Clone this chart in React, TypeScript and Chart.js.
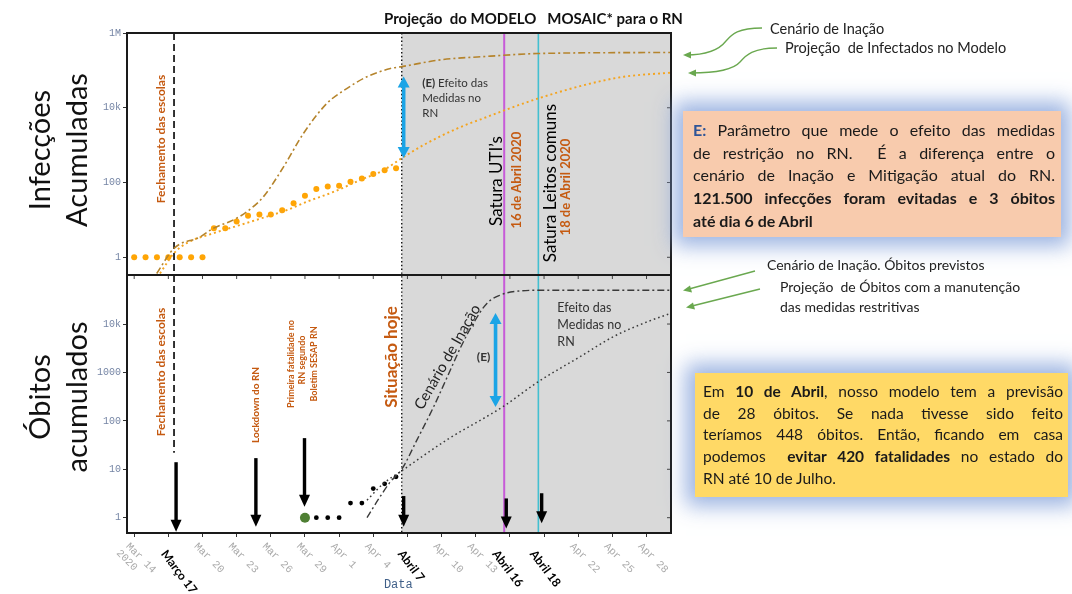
import React, { useEffect, useRef } from 'react';
import { Chart, registerables } from 'chart.js';

Chart.register(...registerables);

// ---------------- data (x = days since 14 March 2020) ----------------
const obsCaseDays = [0, 1, 2, 3, 4, 5, 6, 7, 8, 9, 10, 11, 12, 13, 14, 15, 16, 17, 18, 19, 20, 21, 22, 23];
const obsCaseValues = [1, 1, 1, 1, 1, 1, 1, 6, 6, 9, 13, 14, 14, 18, 28, 44, 67, 78, 82, 105, 129, 169, 213, 240];

const inactionCaseDays = [1.98, 3.5, 5.79, 6.96, 8.72, 9.9, 11.36, 13.12, 14.88, 16.94, 18.7, 20.45, 22.5, 23.5, 26.9, 31.3, 35.4, 47.1];
const inactionCaseValues = [0.37, 1.74, 3.5, 6.0, 10, 16.6, 42, 263, 2090, 13200, 33100, 67600, 112000, 126000, 191000, 240000, 282000, 302000];

const mitigCaseDays = [2.27, 3.5, 4.62, 6.96, 9.3, 11.66, 13.4, 15.2, 17.5, 19.9, 21.9, 23.5, 25.4, 28.4, 30.7, 32.5, 35.5, 40.1, 43.0, 47.1];
const mitigCaseValues = [0.37, 1.29, 2.4, 4.4, 7.3, 12.3, 18.2, 31, 56, 118, 214, 447, 1000, 2820, 5250, 8500, 17800, 44700, 67600, 87000];

const obsDeathDays = [15, 16, 17, 18, 19, 20, 21, 22, 23];
const obsDeathValues = [1, 1, 1, 1, 2, 2, 4, 5, 7];

const inactionDeathDays = [20.45, 21.5, 22.5, 23.5, 24.85, 26.3, 27.5, 28.7, 29.8, 31.0, 32.2, 33.4, 36, 47.1];
const inactionDeathValues = [1.0, 2.5, 5.5, 10, 41, 195, 810, 3400, 10500, 27000, 40000, 47000, 50000, 50000];

const mitigDeathDays = [20.45, 21.9, 23.5, 27.5, 32.5, 35.5, 39.2, 42.1, 45.1, 47.1];
const mitigDeathValues = [2.3, 5.1, 9.3, 41, 204, 646, 2140, 5500, 11200, 16600];

const xTickDays = [0, 3, 6, 9, 12, 15, 18, 21, 24, 27, 30, 33, 36, 39, 42, 45];
const xTickLabels = ['Mar 14\n2020', '', 'Mar 20', 'Mar 23', 'Mar 26', 'Mar 29', 'Apr 1', 'Apr 4', '', 'Apr 10', 'Apr 13', '', '', 'Apr 22', 'Apr 25', 'Apr 28'];
const boldDateDays = [3.0, 23.8, 32.1, 35.4];
const boldDateLabels = ['Março 17', 'Abril 7', 'Abril 16', 'Abril 18'];

const caseTickValues = [1, 100, 10000, 1000000];
const caseTickLabels = ['1', '100', '10k', '1M'];
const deathTickValues = [1, 10, 100, 1000, 10000];
const deathTickLabels = ['1', '10', '100', '1000', '10k'];

const schoolsClosedDay = 3.5;
const todayDay = 23.5;
const icuFullDay = 32.5;
const bedsFullDay = 35.5;

// black event arrows on the deaths panel
const eventArrowDays = [3.68, 10.69, 14.96, 23.67, 32.68, 35.79];
const eventArrowFrom = [14, 17, 44, 2.8, 2.5, 3.2];
const eventArrowTo = [0.51, 0.65, 1.69, 0.65, 0.6, 0.77];

const X_MIN = -0.63;
const X_MAX = 47.15;

const pts = (xs: number[], ys: number[]) => xs.map((x, i) => ({ x, y: ys[i] }));

const LATO = 'Lato, "Open Sans", sans-serif';
const ORANGE_TXT = '#c55a11';

function rotText(ctx: CanvasRenderingContext2D, text: string, x: number, y: number, deg: number, font: string, color: string, align: CanvasTextAlign = 'center', baseline: CanvasTextBaseline = 'middle') {
  ctx.save();
  ctx.translate(x, y);
  ctx.rotate((deg * Math.PI) / 180);
  ctx.font = font;
  ctx.fillStyle = color;
  ctx.textAlign = align;
  ctx.textBaseline = baseline;
  ctx.fillText(text, 0, 0);
  ctx.restore();
}

function downArrow(ctx: CanvasRenderingContext2D, x: number, y1: number, y2: number) {
  const shaft = 3.4, hw = 11, hh = 12;
  ctx.fillStyle = '#000';
  ctx.fillRect(x - shaft / 2, y1, shaft, y2 - y1 - hh + 1);
  ctx.beginPath();
  ctx.moveTo(x - hw / 2, y2 - hh);
  ctx.lineTo(x + hw / 2, y2 - hh);
  ctx.lineTo(x, y2);
  ctx.closePath();
  ctx.fill();
}

function doubleArrow(ctx: CanvasRenderingContext2D, x: number, y1: number, y2: number) {
  const shaft = 3.6, hw = 12, hh = 11;
  ctx.fillStyle = '#1ba4e6';
  ctx.fillRect(x - shaft / 2, y1 + hh - 1, shaft, y2 - y1 - 2 * hh + 2);
  ctx.beginPath();
  ctx.moveTo(x, y1);
  ctx.lineTo(x + hw / 2, y1 + hh);
  ctx.lineTo(x - hw / 2, y1 + hh);
  ctx.closePath();
  ctx.fill();
  ctx.beginPath();
  ctx.moveTo(x, y2);
  ctx.lineTo(x + hw / 2, y2 - hh);
  ctx.lineTo(x - hw / 2, y2 - hh);
  ctx.closePath();
  ctx.fill();
}

const overlayPlugin = {
  id: 'overlay',
  beforeDatasetsDraw(chart: any) {
    const { ctx, chartArea: a, scales } = chart;
    const x = scales.x, yd = scales.yDeaths;
    const line = (x1: number, y1: number, x2: number, y2: number) => {
      ctx.beginPath(); ctx.moveTo(x1, y1); ctx.lineTo(x2, y2); ctx.stroke();
    };
    ctx.save();
    const xs = x.getPixelForValue(todayDay);
    ctx.fillStyle = '#d9d9d9';
    ctx.fillRect(xs, a.top, a.right - xs, a.bottom - a.top);

    const xd = x.getPixelForValue(schoolsClosedDay);
    ctx.strokeStyle = '#111';
    ctx.lineWidth = 1.7;
    ctx.setLineDash([7, 4]);
    line(xd, a.top, xd, yd.getPixelForValue(22));

    ctx.lineWidth = 1.4;
    ctx.setLineDash([1.4, 2.4]);
    line(xs, a.top, xs, a.bottom);
    ctx.setLineDash([]);

    const xm = x.getPixelForValue(icuFullDay);
    ctx.strokeStyle = '#c75bd8';
    ctx.lineWidth = 2;
    line(xm, a.top, xm, a.bottom);

    const xc = x.getPixelForValue(bedsFullDay);
    ctx.strokeStyle = '#43bfd0';
    ctx.lineWidth = 1.6;
    line(xc, a.top, xc, a.bottom);
    ctx.restore();
  },
  beforeDatasetDraw(chart: any, args: any) {
    const ds = chart.data.datasets[args.index];
    const sc = chart.scales[ds.yAxisID];
    const a = chart.chartArea;
    const ctx = chart.ctx;
    ctx.save();
    ctx.beginPath();
    ctx.rect(a.left, sc.top, a.right - a.left, sc.bottom - sc.top);
    ctx.clip();
  },
  afterDatasetDraw(chart: any) {
    chart.ctx.restore();
  },
  afterDatasetsDraw(chart: any) {
    const { ctx, chartArea: a, scales } = chart;
    const x = scales.x, yc = scales.yCases, yd = scales.yDeaths;
    const X = (d: number) => x.getPixelForValue(d);
    const TY = (py: number) => yc.top + (py - 33);
    const BY = (py: number) => yd.top + (py - 275);
    ctx.save();

    // inner ticks
    ctx.strokeStyle = '#444';
    ctx.lineWidth = 1;
    for (const d of xTickDays) {
      const px = X(d);
      ctx.beginPath(); ctx.moveTo(px, yd.top); ctx.lineTo(px, yd.top + 4); ctx.stroke();
    }
    for (const v of caseTickValues) {
      const py = yc.getPixelForValue(v);
      ctx.beginPath(); ctx.moveTo(a.right, py); ctx.lineTo(a.right - 4, py); ctx.stroke();
    }
    for (const v of deathTickValues) {
      const py = yd.getPixelForValue(v);
      ctx.beginPath(); ctx.moveTo(a.right, py); ctx.lineTo(a.right - 4, py); ctx.stroke();
    }

    // frames
    ctx.strokeStyle = '#1a1a1a';
    ctx.lineWidth = 2;
    ctx.strokeRect(a.left, yc.top, a.right - a.left, yc.bottom - yc.top);
    ctx.strokeRect(a.left, yd.top, a.right - a.left, yd.bottom - yd.top);

    // event arrows
    eventArrowDays.forEach((d, i) => {
      downArrow(ctx, X(d), yd.getPixelForValue(eventArrowFrom[i]), yd.getPixelForValue(eventArrowTo[i]));
    });

    // blue "E" arrows
    doubleArrow(ctx, X(23.67), TY(76.5), TY(158));
    doubleArrow(ctx, X(31.74), BY(313), BY(407));

    // ---- top panel texts ----
    rotText(ctx, 'Fechamento das escolas', X(2.36), TY(139), -90, `bold 12px ${LATO}`, ORANGE_TXT);
    ctx.font = `bold 11.5px ${LATO}`;
    ctx.fillStyle = '#333';
    ctx.textAlign = 'left';
    ctx.textBaseline = 'middle';
    ctx.fillText('(E)', X(25.3), TY(83.5));
    const w = ctx.measureText('(E)').width;
    ctx.font = `11.5px ${LATO}`;
    ctx.fillText(' Efeito das', X(25.3) + w, TY(83.5));
    ctx.fillText('Medidas no', X(25.3), TY(98.5));
    ctx.fillText('RN', X(25.3), TY(113.5));

    rotText(ctx, 'Satura UTI’s', X(31.8), TY(181), -90, `17px ${LATO}`, '#000');
    rotText(ctx, '16 de Abril 2020', X(33.65), TY(180), -90, `bold 13px ${LATO}`, ORANGE_TXT);
    rotText(ctx, 'Satura Leitos comuns', X(36.58), TY(183), -90, `17px ${LATO}`, '#000');
    rotText(ctx, '18 de Abril 2020', X(37.95), TY(187), -90, `bold 13px ${LATO}`, ORANGE_TXT);

    // ---- bottom panel texts ----
    rotText(ctx, 'Fechamento das escolas', X(2.36), BY(372), -90, `bold 12px ${LATO}`, ORANGE_TXT);
    rotText(ctx, 'Lockdown do RN', X(10.69), BY(405), -90, `bold 10px ${LATO}`, ORANGE_TXT);
    rotText(ctx, 'Primeira fatalidade no', X(13.77), BY(364), -90, `bold 9px ${LATO}`, ORANGE_TXT);
    rotText(ctx, 'RN segundo', X(14.74), BY(360), -90, `bold 9px ${LATO}`, ORANGE_TXT);
    rotText(ctx, 'Boletim SESAP RN', X(15.76), BY(364), -90, `bold 9px ${LATO}`, ORANGE_TXT);
    rotText(ctx, 'Situação hoje', X(22.6), BY(357), -90, `bold 17px ${LATO}`, ORANGE_TXT);
    rotText(ctx, 'Cenário de Inação', X(27.52), BY(357), -60.3, `15px ${LATO}`, '#222');
    rotText(ctx, '(E)', X(30.69), BY(357), 0, `bold 12px ${LATO}`, '#333');
    ctx.font = `12.5px ${LATO}`;
    ctx.fillStyle = '#333';
    ctx.textAlign = 'left';
    ctx.textBaseline = 'middle';
    ctx.fillText('Efeito das', X(37.17), BY(308));
    ctx.fillText('Medidas no', X(37.17), BY(325));
    ctx.fillText('RN', X(37.17), BY(342));

    // ---- x tick labels ----
    xTickDays.forEach((d, i) => {
      const lab = xTickLabels[i];
      if (!lab) return;
      const lines = lab.split('\n');
      ctx.save();
      ctx.translate(X(d) - 3, a.bottom + 8);
      ctx.rotate(Math.PI / 4);
      ctx.font = `10.5px "Liberation Mono", "DejaVu Sans Mono", monospace`;
      ctx.fillStyle = '#aaaaaa';
      ctx.textAlign = 'left';
      ctx.textBaseline = 'top';
      lines.forEach((l, k) => ctx.fillText(l, -k * 2, k * 11.5));
      ctx.restore();
    });
    boldDateDays.forEach((d, i) => {
      rotText(ctx, boldDateLabels[i], X(d), a.bottom + 15, 53, `bold 12px ${LATO}`, '#000', 'left', 'top');
    });
    rotText(ctx, 'Data', X(23.2), a.bottom + 52, 0, `12px "Liberation Mono", monospace`, '#3f5f88');
    ctx.restore();
  },
};

const config: any = {
  type: 'line',
  data: {
    datasets: [
      {
        label: 'Cenário de Inação (infecções)',
        data: pts(inactionCaseDays, inactionCaseValues),
        yAxisID: 'yCases',
        borderColor: '#b5842c',
        borderWidth: 1.6,
        borderDash: [7, 3, 2, 3],
        pointRadius: 0,
        cubicInterpolationMode: 'monotone',
        fill: false,
      },
      {
        label: 'Projeção de infectados',
        data: pts(mitigCaseDays, mitigCaseValues),
        yAxisID: 'yCases',
        borderColor: '#f4a41f',
        borderWidth: 1.9,
        borderDash: [2, 3],
        pointRadius: 0,
        cubicInterpolationMode: 'monotone',
        fill: false,
      },
      {
        label: 'Casos confirmados',
        data: pts(obsCaseDays, obsCaseValues),
        yAxisID: 'yCases',
        showLine: false,
        pointRadius: 3,
        pointBackgroundColor: '#ffa505',
        pointBorderWidth: 0,
      },
      {
        label: 'Cenário de Inação (óbitos)',
        data: pts(inactionDeathDays, inactionDeathValues),
        yAxisID: 'yDeaths',
        borderColor: '#3a3a3a',
        borderWidth: 1.4,
        borderDash: [7, 3, 2, 3],
        pointRadius: 0,
        cubicInterpolationMode: 'monotone',
        fill: false,
      },
      {
        label: 'Projeção de óbitos',
        data: pts(mitigDeathDays, mitigDeathValues),
        yAxisID: 'yDeaths',
        borderColor: '#3a3a3a',
        borderWidth: 1.5,
        borderDash: [1.6, 3],
        pointRadius: 0,
        cubicInterpolationMode: 'monotone',
        fill: false,
      },
      {
        label: 'Óbitos confirmados',
        data: pts(obsDeathDays, obsDeathValues),
        yAxisID: 'yDeaths',
        showLine: false,
        pointRadius: obsDeathDays.map((_, i) => (i === 0 ? 5 : 2.4)),
        pointBackgroundColor: obsDeathDays.map((_, i) => (i === 0 ? '#4f7f33' : '#000')),
        pointBorderWidth: 0,
      },
    ],
  },
  options: {
    animation: false,
    responsive: false,
    devicePixelRatio: 1,
    layout: { padding: { left: 97, top: 33, right: 401, bottom: 16 } },
    plugins: { legend: { display: false }, tooltip: { enabled: false } },
    scales: {
      x: {
        type: 'linear',
        position: 'bottom',
        min: X_MIN,
        max: X_MAX,
        afterBuildTicks: (s: any) => {
          s.ticks = xTickDays.map((v) => ({ value: v }));
          s.min = X_MIN;
          s.max = X_MAX;
        },
        afterFit: (s: any) => { s.height = 45; },
        ticks: { display: false },
        grid: { display: true, drawOnChartArea: false, drawTicks: true, tickLength: 4, color: '#333' },
        border: { display: false },
      },
      yDeaths: {
        type: 'logarithmic',
        position: 'left',
        stack: 'panels',
        stackWeight: 258,
        min: 0.483,
        max: 103000,
        afterBuildTicks: (s: any) => {
          s.ticks = deathTickValues.map((v) => ({ value: v }));
          s.min = 0.483;
          s.max = 103000;
        },
        afterFit: (s: any) => { s.width = 30; },
        ticks: {
          autoSkip: false,
          padding: 2,
          color: '#7585a5',
          font: { family: '"Liberation Mono", monospace', size: 10 },
          callback: (v: number) => deathTickLabels[deathTickValues.indexOf(v)] ?? '',
        },
        grid: { drawOnChartArea: false, tickLength: 4, color: '#333' },
        border: { display: false },
      },
      yCases: {
        type: 'logarithmic',
        position: 'left',
        stack: 'panels',
        stackWeight: 242,
        min: 0.336,
        max: 1000000,
        afterBuildTicks: (s: any) => {
          s.ticks = caseTickValues.map((v) => ({ value: v }));
          s.min = 0.336;
          s.max = 1000000;
        },
        afterFit: (s: any) => { s.width = 30; },
        ticks: {
          autoSkip: false,
          padding: 2,
          color: '#7585a5',
          font: { family: '"Liberation Mono", monospace', size: 10 },
          callback: (v: number) => caseTickLabels[caseTickValues.indexOf(v)] ?? '',
        },
        grid: { drawOnChartArea: false, tickLength: 4, color: '#333' },
        border: { display: false },
      },
    },
  },
  plugins: [overlayPlugin],
};

const glow = '0 0 20px 9px rgba(138,166,220,0.85)';

function JLine({ children, last }: { children: React.ReactNode; last?: boolean }) {
  return (
    <div style={{ textAlign: last ? 'left' : 'justify', textAlignLast: last ? 'left' : 'justify', whiteSpace: 'pre-wrap' } as any}>
      {children}
    </div>
  );
}

export default function App() {
  const ref = useRef<HTMLCanvasElement>(null);
  useEffect(() => {
    const chart = new Chart(ref.current as HTMLCanvasElement, config);
    return () => chart.destroy();
  }, []);

  return (
    <div style={{ position: 'fixed', left: 0, top: 0, width: 1072, height: 594, background: '#fff', overflow: 'hidden', fontFamily: LATO, color: '#111' }}>
      <canvas ref={ref} width={1072} height={594} style={{ position: 'absolute', left: 0, top: 0, width: 1072, height: 594 }} />

      {/* title */}
      <div style={{ position: 'absolute', left: 384, top: 8, fontWeight: 700, fontSize: 15, whiteSpace: 'pre', lineHeight: '20px' }}>
        {'Projeção  do MODELO   MOSAIC* para o RN'}
      </div>

      {/* left panel labels */}
      <div style={{ position: 'absolute', left: 57, top: 150, transform: 'translate(-50%,-50%) rotate(-90deg)', fontSize: 29, lineHeight: '37px', textAlign: 'center', whiteSpace: 'nowrap' }}>
        Infecções<br />Acumuladas
      </div>
      <div style={{ position: 'absolute', left: 57, top: 397, transform: 'translate(-50%,-50%) rotate(-90deg)', fontSize: 29, lineHeight: '37px', textAlign: 'center', whiteSpace: 'nowrap' }}>
        Óbitos<br />acumulados
      </div>

      {/* green arrows */}
      <svg width={1072} height={594} style={{ position: 'absolute', left: 0, top: 0 }}>
        <defs>
          <marker id="ga" markerUnits="userSpaceOnUse" markerWidth="9" markerHeight="8" refX="1" refY="4" orient="auto-start-reverse">
            <path d="M0,4 L8,0.5 L8,7.5 z" fill="#6aa84f" />
          </marker>
        </defs>
        <path d="M762,28 C738,28 732,34 726,41 C719,50 706,55 686,55" stroke="#6aa84f" strokeWidth={1.3} fill="none" markerEnd="url(#gaEnd)" />
        <path d="M777,48 C753,48 746,55 740,62 C733,70 716,73 691,73" stroke="#6aa84f" strokeWidth={1.3} fill="none" />
        <path d="M755,271 L689,289" stroke="#6aa84f" strokeWidth={1.3} fill="none" />
        <path d="M760,289 L692,306" stroke="#6aa84f" strokeWidth={1.3} fill="none" />
        <path d="M683,55 L691,51.5 L691,58.5 z" fill="#6aa84f" />
        <path d="M688,73 L696,69.5 L696,76.5 z" fill="#6aa84f" />
        <path d="M683,290.5 L690,285.5 L692,292.5 z" fill="#6aa84f" />
        <path d="M686,307.5 L693,302.5 L695,309.5 z" fill="#6aa84f" />
      </svg>

      <div style={{ position: 'absolute', left: 770, top: 20, fontSize: 14.5, lineHeight: '18px', whiteSpace: 'pre', color: '#222' }}>Cenário de Inação</div>
      <div style={{ position: 'absolute', left: 785, top: 39, fontSize: 14.5, lineHeight: '18px', whiteSpace: 'pre', color: '#222' }}>{'Projeção  de Infectados no Modelo'}</div>

      {/* box 1 */}
      <div style={{ position: 'absolute', left: 683, top: 111, width: 378, height: 126, boxSizing: 'border-box', background: '#f8cbad', boxShadow: glow, padding: '8px 6px 0 10px', fontSize: 16, lineHeight: '22.7px', color: '#1a1a1a' }}>
        <JLine><b style={{ color: '#2f5597' }}>E:</b> Parâmetro que mede o efeito das medidas</JLine>
        <JLine>{'de restrição no RN.  É a diferença entre o'}</JLine>
        <JLine>cenário de Inação e Mitigação atual do RN.</JLine>
        <JLine><b>121.500 infecções foram evitadas e 3 óbitos</b></JLine>
        <JLine last><b>até dia 6 de Abril</b></JLine>
      </div>

      <div style={{ position: 'absolute', left: 767, top: 256, fontSize: 14, lineHeight: '18px', whiteSpace: 'pre', color: '#222' }}>Cenário de Inação. Óbitos previstos</div>
      <div style={{ position: 'absolute', left: 780, top: 277, fontSize: 14, lineHeight: '20px', whiteSpace: 'pre', color: '#222' }}>
        {'Projeção  de Óbitos com a manutenção'}<br />das medidas restritivas
      </div>

      {/* box 2 */}
      <div style={{ position: 'absolute', left: 695, top: 373, width: 373, height: 124, boxSizing: 'border-box', background: '#ffd966', boxShadow: glow, padding: '8px 5px 0 8px', fontSize: 15.5, lineHeight: '21.7px', color: '#1a1a1a' }}>
        <JLine>Em <b>10 de Abril</b>, nosso modelo tem a previsão</JLine>
        <JLine>de 28 óbitos. Se nada tivesse sido feito</JLine>
        <JLine>teríamos 448 óbitos. Então, ficando em casa</JLine>
        <JLine>{'podemos  '}<b>evitar 420 fatalidades</b> no estado do</JLine>
        <JLine last>RN até 10 de Julho.</JLine>
      </div>
    </div>
  );
}
